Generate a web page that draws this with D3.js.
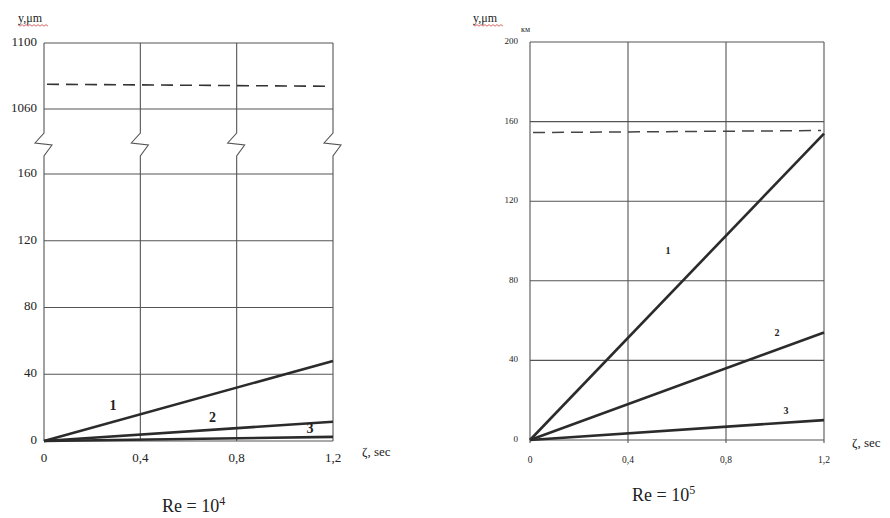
<!DOCTYPE html>
<html><head><meta charset="utf-8">
<script src="https://cdn.jsdelivr.net/npm/d3@7"></script>
<style>body{margin:0;background:#fff}svg{display:block}text{font-family:"Liberation Serif","DejaVu Serif",serif;fill:#222}</style>
</head><body><svg id="c" width="890" height="518"></svg>
<script>
// ---- data ----
const tau = [0, 1.2];
const xTicks = [0, 0.4, 0.8, 1.2];
const xTickLabels = ["0", "0,4", "0,8", "1,2"];
// Left panel, Re = 10^4
const leftYTicksLow = [0, 40, 80, 120, 160];
const leftYTicksUp = [1060, 1100];
const leftSeries1 = [0, 48];
const leftSeries2 = [0, 11.5];
const leftSeries3 = [0, 2.5];
const leftLimit = 1075;
// Right panel, Re = 10^5
const rightYTicks = [0, 40, 80, 120, 160, 200];
const rightSeries1 = [0, 154];
const rightSeries2 = [0, 54];
const rightSeries3 = [0, 10];
const rightLimit = 155;
const seriesNames = ["1", "2", "3"];

const svg = d3.select("#c");
const gridC = "#555", lineC = "#2b2b2b";

// ---------- LEFT PANEL ----------
const xL = d3.scaleLinear().domain([0, 1.2]).range([44, 333]);
const yLow = d3.scaleLinear().domain([0, 160]).range([441, 174]);
const yUp = d3.scaleLinear().domain([1060, 1100]).range([109, 43]);
const gL = svg.append("g");

leftYTicksLow.concat(leftYTicksUp).forEach(v => {
  const y = v >= 1000 ? yUp(v) : yLow(v);
  gL.append("line").attr("x1", xL(0)).attr("x2", xL(1.2)).attr("y1", y).attr("y2", y)
    .attr("stroke", gridC).attr("stroke-width", 1.1);
});
xTicks.forEach(t => {
  const x = xL(t);
  const p = d3.path();
  p.moveTo(x, yUp(1100)); p.lineTo(x, 133); p.lineTo(x - 9, 143); p.lineTo(x + 8, 145);
  p.lineTo(x, 156); p.lineTo(x, yLow(0));
  gL.append("path").attr("d", p.toString()).attr("fill", "none").attr("stroke", gridC).attr("stroke-width", 1.1);
});
gL.append("line").attr("x1", xL(0) + 3).attr("x2", xL(1.2) - 3).attr("y1", yUp(leftLimit)).attr("y2", yUp(leftLimit) + 2)
  .attr("stroke", "#333").attr("stroke-width", 1.6).attr("stroke-dasharray", "12,7");
const lineL = d3.line().x((d, i) => xL(tau[i])).y(d => yLow(d));
[leftSeries1, leftSeries2, leftSeries3].forEach(s => {
  gL.append("path").attr("d", lineL(s)).attr("fill", "none").attr("stroke", lineC).attr("stroke-width", 2.6);
});
const leftLabelPos = [[0.287, 20.4], [0.70, 13.2], [1.105, 6.6]];
leftLabelPos.forEach((p, i) => {
  gL.append("text").attr("x", xL(p[0])).attr("y", yLow(p[1])).attr("text-anchor", "middle")
    .attr("font-size", 14).attr("font-weight", "bold").attr("dominant-baseline", "middle").text(seriesNames[i]);
});
leftYTicksLow.forEach(v => {
  gL.append("text").attr("x", 37).attr("y", yLow(v)).attr("text-anchor", "end").attr("dominant-baseline", "middle")
    .attr("font-size", 13).text(v);
});
leftYTicksUp.forEach(v => {
  gL.append("text").attr("x", 37).attr("y", yUp(v)).attr("text-anchor", "end").attr("dominant-baseline", "middle")
    .attr("font-size", 13).text(v);
});
xTicks.forEach((t, i) => {
  gL.append("text").attr("x", xL(t)).attr("y", 459).attr("text-anchor", "middle").attr("dominant-baseline", "middle")
    .attr("font-size", 13).text(xTickLabels[i]);
});
gL.append("text").attr("x", 362).attr("y", 453).attr("font-size", 13).attr("dominant-baseline", "middle").text("ζ, sec");
gL.append("text").attr("x", 18).attr("y", 22).attr("font-size", 12).text("y,μm");
gL.append("text").attr("x", 162).attr("y", 512).attr("font-size", 18)
  .html('Re = 10<tspan dy="-7" font-size="12">4</tspan>');

// ---------- RIGHT PANEL ----------
const xR = d3.scaleLinear().domain([0, 1.2]).range([530, 824]);
const yR = d3.scaleLinear().domain([0, 200]).range([440, 42]);
const gR = svg.append("g");
rightYTicks.forEach(v => {
  gR.append("line").attr("x1", xR(0)).attr("x2", xR(1.2)).attr("y1", yR(v)).attr("y2", yR(v))
    .attr("stroke", gridC).attr("stroke-width", 1.1);
});
xTicks.forEach(t => {
  gR.append("line").attr("x1", xR(t)).attr("x2", xR(t)).attr("y1", yR(200)).attr("y2", yR(0) + 3)
    .attr("stroke", gridC).attr("stroke-width", 1.1);
});
gR.append("line").attr("x1", xR(0) + 3).attr("x2", xR(1.2) - 3).attr("y1", yR(rightLimit) + 1).attr("y2", yR(rightLimit) - 1)
  .attr("stroke", "#444").attr("stroke-width", 1.5).attr("stroke-dasharray", "12,7");
const lineR = d3.line().x((d, i) => xR(tau[i])).y(d => yR(d));
[rightSeries1, rightSeries2, rightSeries3].forEach(s => {
  gR.append("path").attr("d", lineR(s)).attr("fill", "none").attr("stroke", lineC).attr("stroke-width", 2.6);
});
const rightLabelPos = [[0.563, 94.5], [1.008, 53.3], [1.045, 14]];
rightLabelPos.forEach((p, i) => {
  gR.append("text").attr("x", xR(p[0])).attr("y", yR(p[1])).attr("text-anchor", "middle")
    .attr("font-size", 10).attr("font-weight", "bold").attr("dominant-baseline", "middle").text(seriesNames[i]);
});
rightYTicks.forEach(v => {
  gR.append("text").attr("x", 518).attr("y", yR(v)).attr("text-anchor", "end").attr("dominant-baseline", "middle")
    .attr("font-size", 9).text(v);
});
xTicks.forEach((t, i) => {
  gR.append("text").attr("x", xR(t)).attr("y", 461).attr("text-anchor", "middle").attr("dominant-baseline", "middle")
    .attr("font-size", 9.5).text(xTickLabels[i]);
});
gR.append("text").attr("x", 852).attr("y", 444).attr("font-size", 13).attr("dominant-baseline", "middle").text("ζ, sec");
gR.append("text").attr("x", 473).attr("y", 22).attr("font-size", 12).text("y,μm");
gR.append("text").attr("x", 521).attr("y", 32).attr("font-size", 8).text("км");
gR.append("text").attr("x", 632).attr("y", 501).attr("font-size", 18)
  .html('Re = 10<tspan dy="-7" font-size="12">5</tspan>');

[[18, 48], [473, 503]].forEach(([a, b]) => {
  const pts = d3.range(a, b + 1, 2).map((x, i) => [x, 25 + (i % 2 ? 1.2 : -0.4)]);
  svg.append("path").attr("d", d3.line()(pts)).attr("fill", "none").attr("stroke", "#d04040").attr("stroke-width", 0.8);
});
</script></body></html>
